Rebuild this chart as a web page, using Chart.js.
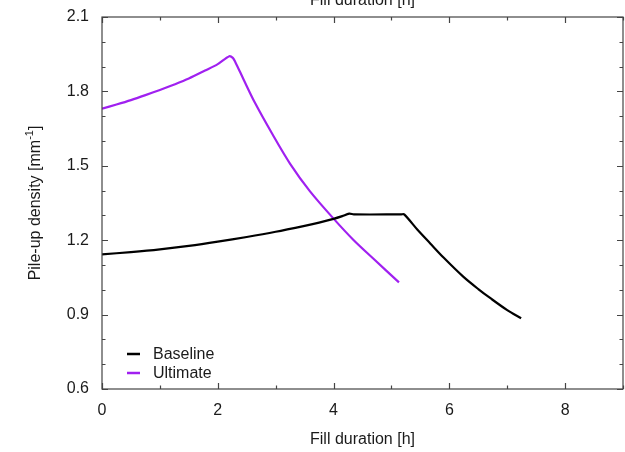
<!DOCTYPE html>
<html>
<head>
<meta charset="utf-8">
<script src="https://cdn.jsdelivr.net/npm/chart.js@4.4.1/dist/chart.umd.min.js"></script>
<style>
  body { margin: 0; background: #fff; }
  #wrap { width: 625px; height: 452px; }
</style>
</head>
<body>
<div id="wrap"><canvas id="pileupChart" width="625" height="452"></canvas></div>
<script>
// values
const baselineHours = [0, 0.5, 1, 1.5, 2, 2.5, 3, 3.5, 3.75, 4.0, 4.15, 4.27, 4.35, 5.17, 5.22, 5.45, 5.67, 5.9, 6.24, 6.5, 6.71, 7.0, 7.24];
const baselineDensity = [1.143, 1.152, 1.163, 1.177, 1.194, 1.213, 1.234, 1.258, 1.271, 1.286, 1.297, 1.307, 1.304, 1.304, 1.304, 1.242, 1.187, 1.13, 1.053, 1.003, 0.966, 0.918, 0.885];

const ultimateHours = [0, 0.25, 0.5, 0.75, 1, 1.25, 1.5, 1.78, 2.0, 2.2, 2.26, 2.3, 2.45, 2.64, 2.95, 3.25, 3.59, 4.0, 4.34, 4.69, 5.13];
const ultimateDensity = [1.73, 1.747, 1.765, 1.785, 1.806, 1.828, 1.852, 1.884, 1.91, 1.942, 1.935, 1.92, 1.846, 1.755, 1.625, 1.508, 1.398, 1.287, 1.202, 1.125, 1.03];

const seriesNames = ['Baseline', 'Ultimate'];
const xTitle = 'Fill duration [h]';
const yTitle = 'Pile-up density [mm';
const yTitleSup = '-1';

const FONT = '"Liberation Sans", Arial, sans-serif';
const TEXT = '#1a1a1a';
const FRAME = '#444';

function toPoints(xs, ys) {
    return xs.map((x, i) => ({ x: x, y: ys[i] }));
}

// frame, inward ticks, titles and legend in gnuplot style
const gnuplotFrame = {
    id: 'gnuplotFrame',
    afterDraw(chart) {
        const ctx = chart.ctx;
        const a = chart.chartArea;
        const xs = chart.scales.x;
        const ys = chart.scales.y;
        ctx.save();
        ctx.strokeStyle = FRAME;
        ctx.lineWidth = 1.2;
        ctx.strokeRect(a.left, a.top, a.right - a.left, a.bottom - a.top);

        ctx.beginPath();
        xs.ticks.forEach(t => {
            const px = Math.round(xs.getPixelForValue(t.value)) + 0.5;
            const len = (Math.round(t.value) % 2 === 0) ? 6 : 3.5;
            ctx.moveTo(px, a.bottom); ctx.lineTo(px, a.bottom - len);
            ctx.moveTo(px, a.top); ctx.lineTo(px, a.top + len);
        });
        ys.ticks.forEach(t => {
            const py = Math.round(ys.getPixelForValue(t.value)) + 0.5;
            const len = (Math.round(t.value * 10) % 3 === 0) ? 6 : 3.5;
            ctx.moveTo(a.left, py); ctx.lineTo(a.left + len, py);
            ctx.moveTo(a.right, py); ctx.lineTo(a.right - len, py);
        });
        ctx.stroke();

        const midX = (a.left + a.right) / 2;
        const midY = (a.top + a.bottom) / 2;
        ctx.fillStyle = TEXT;
        ctx.font = '16px ' + FONT;
        ctx.textAlign = 'center';
        ctx.textBaseline = 'alphabetic';
        // x2 title, cut off at the top edge
        ctx.fillText(xTitle, midX, 5);
        ctx.fillText(xTitle, midX, 444);

        // y title with superscript
        ctx.save();
        ctx.translate(40, midY);
        ctx.rotate(-Math.PI / 2);
        ctx.font = '16px ' + FONT;
        const w1 = ctx.measureText(yTitle).width;
        ctx.font = '11px ' + FONT;
        const w2 = ctx.measureText(yTitleSup).width;
        ctx.font = '16px ' + FONT;
        const w3 = ctx.measureText(']').width;
        let x0 = -(w1 + w2 + w3) / 2;
        ctx.textAlign = 'left';
        ctx.fillText(yTitle, x0, 0);
        ctx.font = '11px ' + FONT;
        ctx.fillText(yTitleSup, x0 + w1, -7);
        ctx.font = '16px ' + FONT;
        ctx.fillText(']', x0 + w1 + w2, 0);
        ctx.restore();

        // legend inside the plot
        ctx.font = '16px ' + FONT;
        ctx.textAlign = 'left';
        ctx.textBaseline = 'middle';
        chart.data.datasets.forEach((ds, i) => {
            const y = 354 + i * 19;
            ctx.strokeStyle = ds.borderColor;
            ctx.lineWidth = 2.5;
            ctx.beginPath();
            ctx.moveTo(127, y); ctx.lineTo(140, y);
            ctx.stroke();
            ctx.fillStyle = TEXT;
            ctx.fillText(ds.label, 153, y + 1);
        });
        ctx.restore();
    }
};

new Chart(document.getElementById('pileupChart'), {
    type: 'line',
    data: {
        datasets: [
            {
                label: seriesNames[0],
                data: toPoints(baselineHours, baselineDensity),
                borderColor: '#000000',
                borderWidth: 2.2,
                pointRadius: 0,
                tension: 0.3,
                borderJoinStyle: 'round'
            },
            {
                label: seriesNames[1],
                data: toPoints(ultimateHours, ultimateDensity),
                borderColor: '#a020f0',
                borderWidth: 2.2,
                pointRadius: 0,
                tension: 0.3,
                borderJoinStyle: 'round'
            }
        ]
    },
    options: {
        responsive: false,
        animation: false,
        layout: { padding: { top: 17, right: 2, left: 0, bottom: 0 } },
        plugins: {
            legend: { display: false },
            tooltip: { enabled: false }
        },
        scales: {
            x: {
                type: 'linear',
                min: 0,
                max: 9,
                grid: { display: false, drawTicks: false },
                border: { display: false },
                ticks: {
                    stepSize: 1,
                    padding: 12,
                    color: TEXT,
                    font: { family: FONT, size: 16 },
                    maxRotation: 0,
                    autoSkip: false,
                    callback: v => (Math.round(v) % 2 === 0 ? String(v) : '')
                },
                afterFit(scale) {
                    scale.height = 63;
                    scale.paddingLeft = 0;
                    scale.paddingRight = 0;
                }
            },
            y: {
                min: 0.6,
                max: 2.1,
                grid: { display: false, drawTicks: false },
                border: { display: false },
                ticks: {
                    stepSize: 0.1,
                    padding: 13,
                    color: TEXT,
                    font: { family: FONT, size: 16 },
                    autoSkip: false,
                    callback: v => (Math.round(v * 10) % 3 === 0 ? v.toFixed(1) : '')
                },
                afterFit(scale) {
                    scale.width = 102;
                    scale.paddingTop = 0;
                    scale.paddingBottom = 0;
                }
            }
        }
    },
    plugins: [gnuplotFrame]
});
</script>
</body>
</html>
